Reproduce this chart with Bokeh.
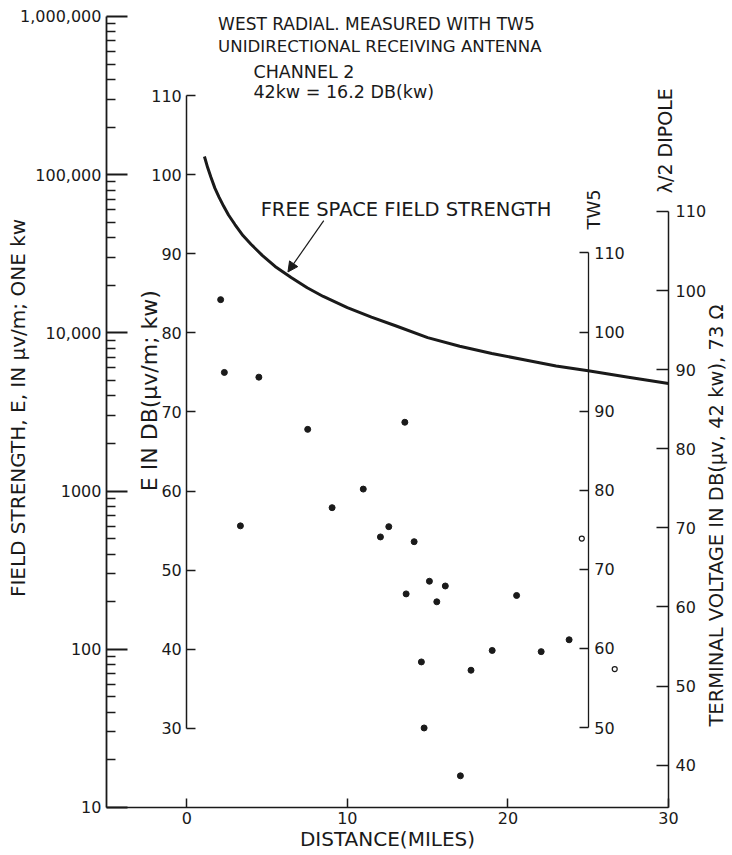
import math
from bokeh.plotting import figure
from bokeh.models import (Range1d, LinearAxis, LogAxis, LogScale, FixedTicker,
                          Label, Arrow, NormalHead)
from bokeh.embed import file_html
from bokeh.resources import INLINE

# ---------------- data ----------------
distance_ticks = [0, 10, 20, 30]
field_ticks = [10, 100, 1000, 10000, 100000, 1000000]
field_tick_labels = ["10", "100", "1000", "10,000", "100,000", "1,000,000"]
e_db_ticks = [30, 40, 50, 60, 70, 80, 90, 100, 110]
tw5_ticks = [50, 60, 70, 80, 90, 100, 110]
dipole_ticks = [40, 50, 60, 70, 80, 90, 100, 110]

TW5_OFFSET = 19.9      # TW5 terminal voltage dB = E dB + offset
DIPOLE_OFFSET = 14.65  # half-wave dipole terminal voltage dB = E dB + offset
TW5_AXIS_MILES = 25

free_space_miles = [1.1, 1.3, 1.5, 1.75, 2.0, 2.3, 2.6, 3.0, 3.5, 4.0, 4.7, 5.5, 6.5,
                    7.5, 8.5, 10, 11.5, 13, 15, 17, 19, 21, 23, 25, 27.5, 30]
free_space_db = [102.3, 100.9, 99.7, 98.3, 97.2, 96.0, 94.9, 93.7, 92.3, 91.2, 89.8,
                 88.4, 87.0, 85.7, 84.6, 83.2, 82.0, 80.9, 79.4, 78.3, 77.4, 76.6,
                 75.8, 75.2, 74.4, 73.6]

measured_miles = [2.11, 2.34, 4.49, 7.53, 13.58, 10.99, 9.05, 3.34, 12.58, 12.06, 14.16,
                  15.11, 16.1, 13.66, 15.57, 20.54, 23.81, 19.02, 22.07, 14.61, 17.7,
                  14.78, 17.04]
measured_db = [84.2, 75.0, 74.4, 67.8, 68.7, 60.25, 57.9, 55.6, 55.5, 54.2, 53.6,
               48.6, 48.0, 47.0, 46.0, 46.8, 41.2, 39.85, 39.7, 38.4, 37.35,
               30.05, 24.0]

open_miles = [24.6, 26.65]
open_db = [54.0, 37.5]

# ---------------- figure ----------------
FONT = "DejaVu Sans"
INK = "#1a1a1a"

# the frame covers the whole canvas; every axis is placed at a fixed data location
X_LO, X_HI = -11.60, 33.86          # miles
DB_LO, DB_HI = 14.18, 122.02        # E in dB(uV/m; kW)

p = figure(width=730, height=853, output_backend="svg", toolbar_location=None,
           x_range=Range1d(X_LO, X_HI), y_range=Range1d(DB_LO, DB_HI),
           x_axis_location=None, y_axis_location=None,
           min_border_left=0, min_border_right=0, min_border_top=0, min_border_bottom=0)
p.outline_line_color = None
p.grid.visible = False
p.background_fill_color = "white"
p.border_fill_color = "white"

p.extra_y_ranges = {
    "log": Range1d(10 ** (DB_LO / 20), 10 ** (DB_HI / 20)),
    "tw5": Range1d(DB_LO + TW5_OFFSET, DB_HI + TW5_OFFSET),
    "dip": Range1d(DB_LO + DIPOLE_OFFSET, DB_HI + DIPOLE_OFFSET),
}
p.extra_y_scales = {"log": LogScale()}


def style_axis(ax, tick_in, standoff=5, width=1.5):
    ax.axis_line_color = INK
    ax.axis_line_width = width
    ax.major_tick_line_color = INK
    ax.major_tick_line_width = width
    ax.major_tick_in = tick_in
    ax.major_tick_out = 0
    ax.minor_tick_in = 0
    ax.minor_tick_out = 0
    ax.major_label_text_font = FONT
    ax.major_label_text_font_size = "16px"
    ax.major_label_text_color = INK
    ax.major_label_standoff = standoff


# bottom distance axis (at E = 20 dB, i.e. 10 uV/m)
xa = LinearAxis(fixed_location=20, bounds=(-5, 30), ticker=FixedTicker(ticks=distance_ticks))
style_axis(xa, tick_in=9, standoff=5)
p.add_layout(xa, "below")

# outer logarithmic field-strength axis at distance -5
minor = [k * d for d in field_ticks[:-1] for k in range(2, 10)]
log_axis = LogAxis(y_range_name="log", fixed_location=-5, bounds=(10, 1e6),
                   ticker=FixedTicker(ticks=field_ticks, minor_ticks=minor),
                   major_label_overrides={v: s for v, s in zip(field_ticks, field_tick_labels)})
style_axis(log_axis, tick_in=21, standoff=5, width=1.8)
log_axis.minor_tick_in = 9
log_axis.minor_tick_line_color = INK
log_axis.minor_tick_line_width = 1.5
p.add_layout(log_axis, "left")

# inner E (dB) axis at distance 0
e_axis = LinearAxis(fixed_location=0, bounds=(30, 110),
                    ticker=FixedTicker(ticks=e_db_ticks))
style_axis(e_axis, tick_in=9, standoff=5)
p.add_layout(e_axis, "left")

# TW5 axis
tw5_axis = LinearAxis(y_range_name="tw5", fixed_location=TW5_AXIS_MILES,
                      bounds=(50, 110), ticker=FixedTicker(ticks=tw5_ticks))
style_axis(tw5_axis, tick_in=9, standoff=6, width=1.3)
p.add_layout(tw5_axis, "right")

# half-wave dipole axis at distance 30
dip_axis = LinearAxis(y_range_name="dip", fixed_location=30,
                      bounds=(20 + DIPOLE_OFFSET, 110),
                      ticker=FixedTicker(ticks=dipole_ticks))
style_axis(dip_axis, tick_in=12, standoff=7)
p.add_layout(dip_axis, "right")

# ---------------- marks ----------------
p.line(free_space_miles, free_space_db, line_color=INK, line_width=3)
p.scatter(measured_miles, measured_db, size=6, color=INK)
p.scatter(open_miles, open_db, size=5, fill_color="white", line_color=INK, line_width=1.2)


# ---------------- texts ----------------
def lab(text, x, y, angle=0.0, align="left", size="17px"):
    p.add_layout(Label(x=x, y=y, text=text, angle=angle, text_align=align,
                       text_baseline="middle", text_font=FONT,
                       text_font_size=size, text_color=INK))


UP = math.pi / 2
lab("WEST RADIAL. MEASURED WITH TW5", 1.95, 119.1)
lab("UNIDIRECTIONAL RECEIVING ANTENNA", 1.95, 116.2, size="16.6px")
lab("CHANNEL 2", 4.15, 113.0, size="17.5px")
lab("42kw = 16.2 DB(kw)", 4.15, 110.4, size="17.5px")
lab("FREE SPACE FIELD STRENGTH", 4.6, 95.6, size="19.5px")

lab("FIELD STRENGTH, E, IN μv/m; ONE kw", -10.48, 70.5, angle=UP, align="center", size="20px")
lab("E IN DB(μv/m; kw)", -2.35, 72.7, angle=UP, align="center", size="22px")
lab("TW5", 25.35, 95.6, angle=UP, align="center", size="18px")
lab("λ/2 DIPOLE", 29.8, 104.3, angle=UP, align="center", size="19px")
lab("TERMINAL VOLTAGE IN DB(μv, 42 kw), 73 Ω", 32.98, 56.9, angle=UP, align="center", size="19.5px")
lab("DISTANCE(MILES)", 12.5, 15.95, align="center", size="20px")

p.add_layout(Arrow(end=NormalHead(size=10, fill_color=INK, line_color=INK, line_width=1),
                   x_start=8.53, y_start=94.2, x_end=6.3, y_end=87.7,
                   line_color=INK, line_width=1.2))

open("out.html", "w").write(file_html(p, INLINE))
